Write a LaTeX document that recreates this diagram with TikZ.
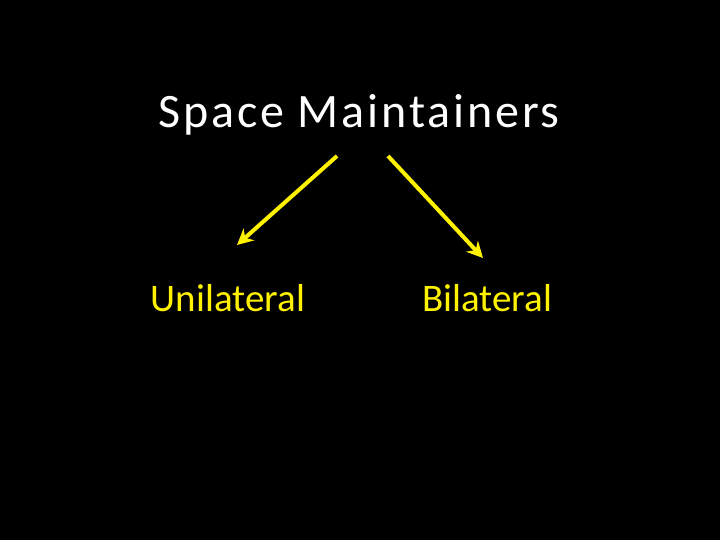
\documentclass[tikz,border=0pt]{standalone}
\usepackage{fontspec}
\setmainfont{Carlito}
\newfontfamily\titlefont[LetterSpace=6]{Carlito}
\usetikzlibrary{arrows.meta}
\begin{document}
\begin{tikzpicture}[x=1pt,y=-1pt,
  arr/.style={draw=yellow,line width=4pt,-{Stealth[length=16pt,width=16pt]}},
  lab/.style={text=yellow,font=\fontsize{39}{46}\selectfont}]
\fill[black] (0,0) rectangle (720,540);
\useasboundingbox (0,0) rectangle (720,540);
\node[text=white,font=\titlefont\fontsize{48}{56}\selectfont] (t) at (359,115) {Space Maintainers};
\node[lab] (u) at (228,298) {Unilateral};
\node[lab] (b) at (487,298) {Bilateral};
\coordinate (l1) at (337,156);
\coordinate (l2) at (237,245);
\coordinate (r1) at (388,156);
\coordinate (r2) at (483,258);
\draw[arr] (l1) -- (l2);
\draw[arr] (r1) -- (r2);
\end{tikzpicture}
\end{document}
